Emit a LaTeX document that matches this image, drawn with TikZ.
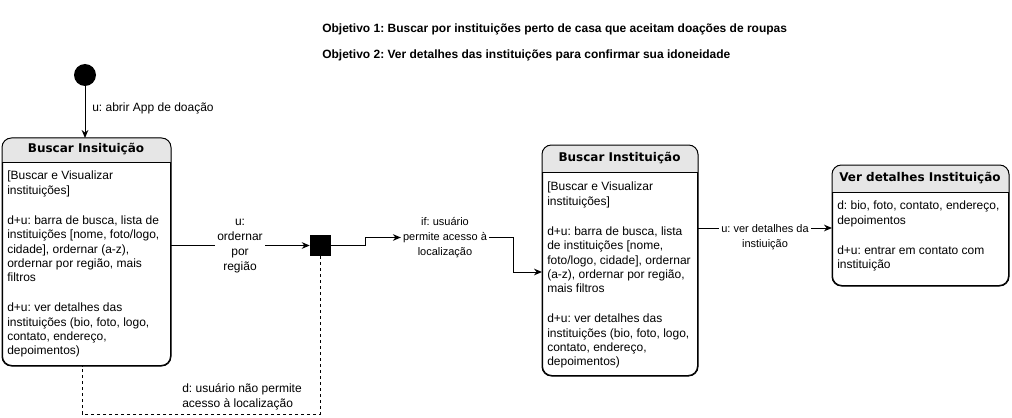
\documentclass[tikz,border=0pt]{standalone}
\usepackage{fontspec}
\setmainfont{Liberation Sans}
\newfontfamily\hdfont{DejaVu Sans}
\usetikzlibrary{arrows.meta,calc}
\definecolor{hdgray}{HTML}{E6E6E6}
\frenchspacing
\tikzset{
  px/.style={x=0.75pt,y=-0.75pt},
  statebox/.style={draw,line width=0.75pt,rounded corners=7pt,inner sep=0pt,anchor=north west},
  boxtext/.style={anchor=north west,inner sep=0pt,align=left,font=\fontsize{9pt}{10.7pt}\selectfont},
  title/.style={inner sep=0pt,font=\hdfont\bfseries\fontsize{9pt}{11pt}\selectfont},
  lbl/.style={inner sep=1.5pt,align=center,fill=white,font=\fontsize{9pt}{11.25pt}\selectfont},
  slbl/.style={inner sep=1.5pt,align=center,fill=white,font=\fontsize{8.25pt}{11.25pt}\selectfont},
  conn/.style={line width=0.75pt,-{Stealth[length=6pt,width=5pt]}},
  dconn/.style={line width=0.75pt,dash pattern=on 2.25pt off 2.25pt},
  goal/.style={anchor=west,inner sep=0pt,font=\bfseries\fontsize{9pt}{10pt}\selectfont}
}
\newcommand{\hdbox}[6]{% name, x, y, w, h, header height
  \node[statebox,minimum width=#4*0.75pt,minimum height=#5*0.75pt] (#1) at (#2,#3) {};
  \begin{scope}
    \clip[rounded corners=7pt] (#1.north west) rectangle (#1.south east);
    \fill[hdgray] (#1.north west) rectangle ($(#1.north east)+(0,-#6*0.75pt)$);
  \end{scope}
  \draw[line width=0.75pt,rounded corners=7pt] (#1.north west) rectangle (#1.south east);
  \draw[line width=0.75pt] ($(#1.north west)+(0,-#6*0.75pt)$) -- ($(#1.north east)+(0,-#6*0.75pt)$);
}
\begin{document}
\begin{tikzpicture}[px]
\useasboundingbox (0,0) rectangle (1012,417);

% goals
\node[goal] (g1) at (322,29) {Objetivo 1: Buscar por instituições perto de casa que aceitam doações de roupas};
\node[goal] (g2) at (322,55) {Objetivo 2: Ver detalhes das instituições para confirmar sua idoneidade};

% initial
\node[circle,fill=black,minimum size=22*0.75pt,inner sep=0pt] (init) at (85,75) {};

% box 1
\hdbox{b1}{2}{138}{168}{227}{24}
\node[title] (t1) at (86,149) {Buscar Insituição};
\node[boxtext] (x1) at (7,171) {[Buscar e Visualizar\\instituições]\\[12pt]d+u: barra de busca, lista de\\instituições [nome, foto/logo,\\cidade], ordernar (a-z),\\ordernar por região, mais\\filtros\\[12pt]d+u: ver detalhes das\\instituições (bio, foto, logo,\\contato, endereço,\\depoimentos)};

% box 2
\hdbox{b2}{542}{145}{155}{230}{27}
\node[title] (t2) at (619.5,158) {Buscar Instituição};
\node[boxtext] (x2) at (547,182) {[Buscar e Visualizar\\instituições]\\[12pt]d+u: barra de busca, lista\\de instituições [nome,\\foto/logo, cidade], ordernar\\(a-z), ordernar por região,\\mais filtros\\[12pt]d+u: ver detalhes das\\instituições (bio, foto, logo,\\contato, endereço,\\depoimentos)};

% box 3
\hdbox{b3}{832}{165}{176}{120}{27}
\node[title] (t3) at (920,178) {Ver detalhes Instituição};
\node[boxtext] (x3) at (837,201) {d: bio, foto, contato, endereço,\\depoimentos\\[12pt]d+u: entrar em contato com\\instituição};

% fork square
\node[fill=black,minimum width=21*0.75pt,minimum height=21*0.75pt,inner sep=0pt] (sq) at (320.5,245.5) {};

% edges
\draw[conn] (init) -- (init|-b1.north);
\node[anchor=west,inner sep=0pt,font=\fontsize{9pt}{11pt}\selectfont] (l0) at (92,108) {u: abrir App de doação};

\draw[conn] (b1.east|-sq) -- (sq.west);
\node[lbl] (l1) at (240,246) {u:\\ordernar\\por\\região};

\node[slbl] (l2) at (445,238) {if: usuário\\permite acesso à\\localização};
\draw[conn] (sq.east) -- (365,245.5) -- (365,237.5) -- (l2.west|-365,237.5);
\draw[conn] (l2.east|-0,237.5) -- (513,237.5) -- (513,272) -- (b2.west|-0,272);

\coordinate (d1) at (320.5,414);
\coordinate (d2) at (82,414);
\draw[dconn] (sq.south) -- (d1) -- (d2) -- (d2|-b1.south);
\node[lbl,fill=none,align=left] (l3) at (242,397) {d: usuário não permite\\acesso à localização};

\draw[conn] (b2.east|-0,228) -- (b3.west|-0,228);
\node[slbl,anchor=north] (l4) at (765,222) {u: ver detalhes da\\instiuição};
\end{tikzpicture}
\end{document}
